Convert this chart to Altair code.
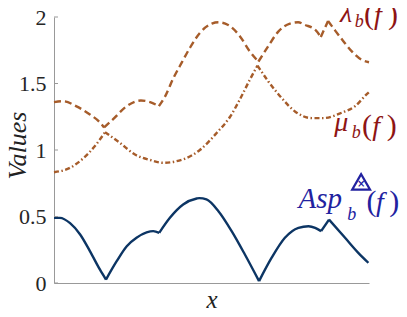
import altair as alt
import pandas as pd

# ---- data (x normalised 0..1) ----
lam_x = [0.000, 0.029, 0.070, 0.114, 0.146, 0.159, 0.187, 0.231, 0.276, 0.305, 0.333,
         0.352, 0.379, 0.405, 0.432, 0.463, 0.501, 0.522, 0.553, 0.590, 0.622, 0.649,
         0.680, 0.712, 0.749, 0.775, 0.797, 0.829, 0.847, 0.870, 0.892, 0.918, 0.950,
         0.975, 1.000]
lam_y = [1.360, 1.367, 1.330, 1.267, 1.207, 1.170, 1.230, 1.330, 1.372, 1.360, 1.330,
         1.400, 1.540, 1.655, 1.770, 1.880, 1.950, 1.960, 1.940, 1.856, 1.740, 1.665,
         1.780, 1.890, 1.950, 1.960, 1.940, 1.905, 1.850, 1.970, 1.900, 1.820, 1.730,
         1.680, 1.660]
lam_breaks = [0.159, 0.333, 0.649, 0.847, 0.870]

mu_x = [0.000, 0.051, 0.094, 0.130, 0.162, 0.209, 0.257, 0.305, 0.346, 0.410, 0.463,
        0.517, 0.559, 0.590, 0.622, 0.646, 0.680, 0.723, 0.765, 0.818, 0.855, 0.913,
        0.956, 0.993, 1.000]
mu_y = [0.833, 0.866, 0.940, 1.030, 1.134, 1.054, 0.966, 0.925, 0.904, 0.930, 1.000,
        1.130, 1.250, 1.380, 1.530, 1.635, 1.517, 1.390, 1.290, 1.240, 1.240, 1.280,
        1.330, 1.420, 1.435]
mu_breaks = [0.162, 0.646]

asp_x = [0.000, 0.019, 0.051, 0.083, 0.114, 0.146, 0.165, 0.199, 0.231, 0.262, 0.294,
         0.315, 0.334, 0.368, 0.410, 0.453, 0.461, 0.484, 0.522, 0.564, 0.606, 0.651,
         0.691, 0.733, 0.776, 0.808, 0.829, 0.848, 0.873, 0.924, 0.966, 0.998]
asp_y = [0.490, 0.490, 0.450, 0.365, 0.240, 0.100, 0.026, 0.164, 0.277, 0.340, 0.380,
         0.390, 0.377, 0.490, 0.590, 0.635, 0.638, 0.628, 0.540, 0.390, 0.214, 0.014,
         0.190, 0.340, 0.415, 0.427, 0.415, 0.390, 0.477, 0.340, 0.227, 0.152]
asp_breaks = [0.165, 0.334, 0.651, 0.848, 0.873]

y_ticks = [0, 0.5, 1, 1.5, 2]

BROWN = "#A65C2A"
NAVY = "#0C3564"
RED = "#8E1414"
BLUE = "#2222A0"
FONT = "Liberation Serif"


def segments(name, xs, ys, breaks):
    rows = []
    seg = 0
    for i, (x, y) in enumerate(zip(xs, ys)):
        rows.append({"series": name, "seg": seg, "x": x, "v": y, "o": i})
        if x in breaks:
            seg += 1
            rows.append({"series": name, "seg": seg, "x": x, "v": y, "o": i})
    return rows


lam_df = pd.DataFrame(segments("lam", lam_x, lam_y, lam_breaks))
mu_df = pd.DataFrame(segments("mu", mu_x, mu_y, mu_breaks))
asp_df = pd.DataFrame(segments("asp", asp_x, asp_y, asp_breaks))

xs = alt.Scale(domain=[0, 1], nice=False, zero=False)
ys = alt.Scale(domain=[0, 2], nice=False)

X_AXIS = alt.Axis(title="x", labels=False, ticks=False, grid=False,
                  domainColor="#999999", domainWidth=1,
                  titleFont=FONT, titleFontSize=25, titleFontStyle="italic",
                  titleFontWeight="normal", titleColor="#222222",
                  titleBaseline="alphabetic", titleY=24)
Y_AXIS = alt.Axis(title="Values", values=y_ticks, format="~g", ticks=False,
                  grid=False, domainColor="#999999", domainWidth=1,
                  labelFont=FONT, labelFontSize=22, labelColor="#262626",
                  labelPadding=8,
                  titleFont=FONT, titleFontSize=26, titleFontStyle="italic",
                  titleFontWeight="normal", titleColor="#222222",
                  titleAngle=270, titleBaseline="alphabetic",
                  titleX=-29, titleY=128, titleAlign="center")


def line(df, color, dash):
    kw = dict(color=color, strokeWidth=2.4, interpolate="monotone", clip=False)
    if dash:
        kw["strokeDash"] = dash
    return alt.Chart(df).mark_line(**kw).encode(
        x=alt.X("x:Q", scale=xs, axis=X_AXIS),
        y=alt.Y("v:Q", scale=ys, axis=Y_AXIS),
        detail="seg:N",
        order="o:Q",
    )


lam_line = line(lam_df, BROWN, [7, 4])
mu_line = line(mu_df, BROWN, [5, 2.5, 1.5, 2.5])
asp_line = line(asp_df, NAVY, None)

tick_df = pd.DataFrame({"t": y_ticks})
ticks = alt.Chart(tick_df).mark_rule(color="#999999", strokeWidth=1).encode(
    y=alt.Y("t:Q", scale=ys, axis=Y_AXIS), x=alt.value(0), x2=alt.value(4))

# ---- annotation labels (data coordinates) ----
lab_it = pd.DataFrame([
    {"t": "λ", "x": 0.908, "v": 1.965, "s": 28, "c": RED},
    {"t": "b", "x": 0.955, "v": 1.925, "s": 18, "c": RED},
    {"t": "f", "x": 1.016, "v": 1.945, "s": 28, "c": RED},
    {"t": "μ", "x": 0.890, "v": 1.140, "s": 28, "c": RED},
    {"t": "b", "x": 0.945, "v": 1.092, "s": 18, "c": RED},
    {"t": "f", "x": 1.010, "v": 1.110, "s": 28, "c": RED},
    {"t": "Asp", "x": 0.776, "v": 0.566, "s": 29, "c": BLUE},
    {"t": "b", "x": 0.931, "v": 0.476, "s": 18, "c": BLUE},
    {"t": "f", "x": 1.022, "v": 0.540, "s": 28, "c": BLUE},
])
lab_up = pd.DataFrame([
    {"t": "(", "x": 0.984, "v": 1.945, "s": 30, "c": RED},
    {"t": ")", "x": 1.060, "v": 1.945, "s": 30, "c": RED},
    {"t": "(", "x": 0.978, "v": 1.110, "s": 30, "c": RED},
    {"t": ")", "x": 1.056, "v": 1.110, "s": 30, "c": RED},
    {"t": "(", "x": 0.992, "v": 0.540, "s": 30, "c": BLUE},
    {"t": ")", "x": 1.064, "v": 0.540, "s": 30, "c": BLUE},
])


def texts(df, style):
    return alt.Chart(df).mark_text(font=FONT, fontStyle=style, align="left",
                                   baseline="alphabetic").encode(
        x=alt.X("x:Q", scale=xs), y=alt.Y("v:Q", scale=ys), text="t:N",
        size=alt.Size("s:Q", scale=None, legend=None),
        color=alt.Color("c:N", scale=None, legend=None))


tri_df = pd.DataFrame({"x": [0.975], "v": [0.760]})
tri = alt.Chart(tri_df).mark_point(shape="triangle-up", filled=False, size=320,
                                   color=BLUE, strokeWidth=2.2, opacity=1).encode(
    x=alt.X("x:Q", scale=xs), y=alt.Y("v:Q", scale=ys))
tri_x = alt.Chart(tri_df).mark_text(text="×", font="DejaVu Sans", fontSize=10,
                                    fontWeight="bold", color=BLUE, baseline="middle",
                                    dy=2).encode(
    x=alt.X("x:Q", scale=xs), y=alt.Y("v:Q", scale=ys))

chart = alt.layer(
    lam_line, mu_line, asp_line, ticks,
    texts(lab_it, "italic"), texts(lab_up, "normal"), tri, tri_x,
).properties(
    width=315, height=266,
    autosize=alt.AutoSizeParams(type="none"),
    padding={"left": 46, "top": 9, "right": 30, "bottom": 25},
).configure(font=FONT).configure_view(stroke=None)

chart.save("out.html", embed_options={"renderer": "svg", "actions": False})
